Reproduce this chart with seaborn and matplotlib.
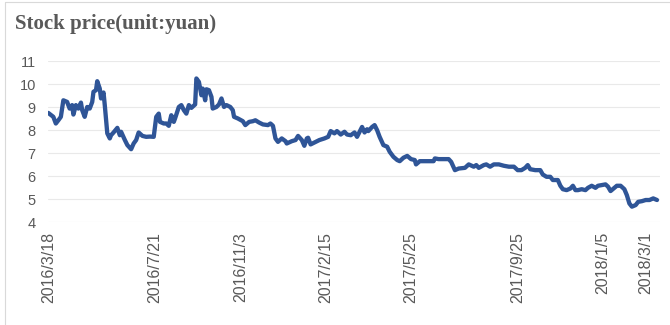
import numpy as np
import pandas as pd
import matplotlib
matplotlib.use("Agg")
import matplotlib.pyplot as plt
from matplotlib.lines import Line2D
import seaborn as sns

# ---- data ----
dates = [
    "2016-03-18", "2016-03-24", "2016-03-28", "2016-03-30", "2016-04-01", "2016-04-06", "2016-04-11", "2016-04-13", "2016-04-15", "2016-04-18",
    "2016-04-20", "2016-04-22", "2016-04-26", "2016-04-27", "2016-04-29", "2016-05-04", "2016-05-06", "2016-05-10", "2016-05-11", "2016-05-13",
    "2016-05-16", "2016-05-18", "2016-05-19", "2016-05-23", "2016-05-24", "2016-05-26", "2016-05-30", "2016-05-31", "2016-06-02", "2016-06-07",
    "2016-06-13", "2016-06-14", "2016-06-17", "2016-06-21", "2016-06-24", "2016-06-28", "2016-06-30", "2016-07-04", "2016-07-07", "2016-07-12",
    "2016-07-15", "2016-07-20", "2016-07-22", "2016-07-26", "2016-07-27", "2016-08-01", "2016-08-03", "2016-08-05", "2016-08-09", "2016-08-11",
    "2016-08-12", "2016-08-17", "2016-08-19", "2016-08-23", "2016-08-25", "2016-08-29", "2016-08-31", "2016-09-05", "2016-09-06", "2016-09-08",
    "2016-09-12", "2016-09-13", "2016-09-19", "2016-09-20", "2016-09-22", "2016-09-26", "2016-09-27", "2016-09-30", "2016-10-11", "2016-10-13",
    "2016-10-17", "2016-10-19", "2016-10-24", "2016-10-26", "2016-10-27", "2016-11-01", "2016-11-07", "2016-11-09", "2016-11-14", "2016-11-17",
    "2016-11-21", "2016-11-24", "2016-11-29", "2016-12-05", "2016-12-07", "2016-12-09", "2016-12-13", "2016-12-15", "2016-12-20", "2016-12-23",
    "2016-12-26", "2016-12-30", "2017-01-05", "2017-01-09", "2017-01-12", "2017-01-16", "2017-01-18", "2017-01-19", "2017-01-23", "2017-01-26",
    "2017-02-08", "2017-02-14", "2017-02-17", "2017-02-21", "2017-02-24", "2017-02-28", "2017-03-03", "2017-03-08", "2017-03-10", "2017-03-15",
    "2017-03-20", "2017-03-22", "2017-03-28", "2017-03-30", "2017-04-05", "2017-04-06", "2017-04-11", "2017-04-13", "2017-04-17", "2017-04-19",
    "2017-04-24", "2017-04-27", "2017-05-02", "2017-05-05", "2017-05-10", "2017-05-12", "2017-05-17", "2017-05-22", "2017-05-25", "2017-06-01",
    "2017-06-02", "2017-06-07", "2017-06-13", "2017-06-16", "2017-06-22", "2017-06-23", "2017-06-28", "2017-07-04", "2017-07-10", "2017-07-12",
    "2017-07-17", "2017-07-20", "2017-07-27", "2017-08-01", "2017-08-07", "2017-08-09", "2017-08-11", "2017-08-17", "2017-08-21", "2017-08-24",
    "2017-08-29", "2017-09-04", "2017-09-08", "2017-09-14", "2017-09-20", "2017-09-25", "2017-09-28", "2017-10-10", "2017-10-12", "2017-10-16",
    "2017-10-20", "2017-10-26", "2017-10-30", "2017-11-02", "2017-11-07", "2017-11-09", "2017-11-15", "2017-11-17", "2017-11-21", "2017-11-24",
    "2017-11-29", "2017-12-01", "2017-12-05", "2017-12-07", "2017-12-12", "2017-12-15", "2017-12-19", "2017-12-22", "2017-12-27", "2017-12-29",
    "2018-01-04", "2018-01-09", "2018-01-11", "2018-01-15", "2018-01-18", "2018-01-22", "2018-01-25", "2018-01-30", "2018-02-01", "2018-02-05",
    "2018-02-07", "2018-02-12", "2018-02-14", "2018-02-26", "2018-03-01", "2018-03-06", "2018-03-09", "2018-03-14",
]
prices = [
    8.75, 8.58, 8.29, 8.43, 8.58, 9.30, 9.23, 8.94, 9.09, 8.68,
    9.09, 8.94, 9.20, 8.87, 8.58, 9.01, 8.94, 9.23, 9.67, 9.74,
    10.13, 9.81, 9.38, 9.64, 9.09, 7.86, 7.64, 7.78, 7.90, 8.10,
    7.78, 7.93, 7.57, 7.35, 7.17, 7.42, 7.57, 7.90, 7.75, 7.71,
    7.72, 7.71, 8.58, 8.72, 8.36, 8.29, 8.29, 8.19, 8.65, 8.36,
    8.51, 9.01, 9.09, 8.87, 8.72, 9.09, 8.97, 9.12, 10.25, 10.10,
    9.52, 9.81, 9.30, 9.78, 9.74, 9.45, 8.94, 9.01, 9.12, 9.38,
    9.01, 9.09, 9.01, 8.87, 8.58, 8.51, 8.39, 8.22, 8.36, 8.39,
    8.43, 8.33, 8.25, 8.22, 8.29, 8.19, 7.64, 7.49, 7.64, 7.52,
    7.42, 7.52, 7.57, 7.75, 7.57, 7.32, 7.64, 7.67, 7.38, 7.46,
    7.57, 7.64, 7.71, 7.96, 7.86, 7.96, 7.81, 7.93, 7.81, 7.78,
    7.90, 7.71, 8.14, 7.90, 8.04, 7.96, 8.14, 8.22, 8.00, 7.71,
    7.35, 7.28, 7.06, 6.84, 6.70, 6.65, 6.80, 6.88, 6.74, 6.70,
    6.51, 6.65, 6.65, 6.65, 6.65, 6.77, 6.74, 6.74, 6.74, 6.62,
    6.26, 6.33, 6.36, 6.51, 6.41, 6.48, 6.36, 6.48, 6.51, 6.41,
    6.51, 6.51, 6.45, 6.41, 6.41, 6.26, 6.26, 6.36, 6.48, 6.30,
    6.26, 6.26, 6.07, 5.97, 5.97, 5.83, 5.83, 5.58, 5.43, 5.39,
    5.46, 5.58, 5.39, 5.39, 5.43, 5.39, 5.49, 5.58, 5.49, 5.58,
    5.61, 5.64, 5.54, 5.35, 5.49, 5.58, 5.58, 5.43, 5.17, 4.81,
    4.67, 4.74, 4.88, 4.91, 4.96, 4.96, 5.03, 4.96,
]
tick_dates = ["2016-03-18", "2016-07-21", "2016-11-03", "2017-02-15",
              "2017-05-25", "2017-09-25", "2018-01-05", "2018-03-01"]
tick_labels = ["2016/3/18", "2016/7/21", "2016/11/3", "2017/2/15",
               "2017/5/25", "2017/9/25", "2018/1/5", "2018/3/1"]
y_ticks = [4, 5, 6, 7, 8, 9, 10, 11]
title = "Stock price(unit:yuan)"

# market closing days (category axis counts trading sessions only)
market_holidays = [
    "2016-04-04", "2016-05-02", "2016-06-09", "2016-06-10", "2016-09-15", "2016-09-16",
    "2016-10-03", "2016-10-04", "2016-10-05", "2016-10-06", "2016-10-07",
    "2017-01-02", "2017-01-27", "2017-01-30", "2017-01-31", "2017-02-01", "2017-02-02",
    "2017-04-03", "2017-04-04", "2017-05-01", "2017-05-29", "2017-05-30",
    "2017-10-02", "2017-10-03", "2017-10-04", "2017-10-05", "2017-10-06",
    "2018-01-01", "2018-02-15", "2018-02-16", "2018-02-19", "2018-02-20", "2018-02-21",
]

assert len(dates) == len(prices)
start = dates[0]
session = np.busday_count(start, np.array(dates, dtype="datetime64[D]"), holidays=market_holidays)
tick_session = np.busday_count(start, np.array(tick_dates, dtype="datetime64[D]"), holidays=market_holidays)
df = pd.DataFrame({"session": session, "price": prices})

# ---- style ----
sns.set_theme(style="white")
plt.rcParams["font.family"] = ["Liberation Sans", "DejaVu Sans"]
text_gray = "#595959"

fig = plt.figure(figsize=(6.7, 3.25), dpi=100)
ax = fig.add_axes([48.3 / 670, 1 - 222.3 / 325, (659.5 - 48.3) / 670, (222.3 - 61) / 325])

sns.lineplot(data=df, x="session", y="price", ax=ax, color="#2F5597",
             linewidth=3.1, solid_joinstyle="round", solid_capstyle="round")

ax.set_xlim(0, 487)
ax.set_ylim(3.99, 11.01)
ax.set_yticks(y_ticks)
ax.set_yticklabels([str(v) for v in y_ticks])
ax.set_xticks(tick_session)
ax.set_xticklabels(tick_labels, rotation=90, ha="center", va="top")
ax.set_xlabel("")
ax.set_ylabel("")

ax.yaxis.grid(True, color="#E9E9E9", linewidth=0.8)
ax.xaxis.grid(False)
for s in ax.spines.values():
    s.set_visible(False)
ax.tick_params(axis="y", length=0, pad=9, labelsize=10.5, labelcolor=text_gray)
ax.tick_params(axis="x", length=0, pad=7, labelsize=11.5, labelcolor=text_gray)

fig.text(15 / 670, 1 - 29 / 325, title, fontfamily="Liberation Serif", fontweight="bold",
         fontsize=15, color=text_gray, va="baseline", ha="left")

# chart-area border (left and top edges visible)
fig.add_artist(Line2D([5 / 670, 5 / 670], [0, 1 - 2 / 325], transform=fig.transFigure,
                      color="#D9D9D9", linewidth=0.8))
fig.add_artist(Line2D([5 / 670, 1], [1 - 2 / 325, 1 - 2 / 325], transform=fig.transFigure,
                      color="#D9D9D9", linewidth=0.8))

fig.savefig("out.png", dpi=100, facecolor="white")
